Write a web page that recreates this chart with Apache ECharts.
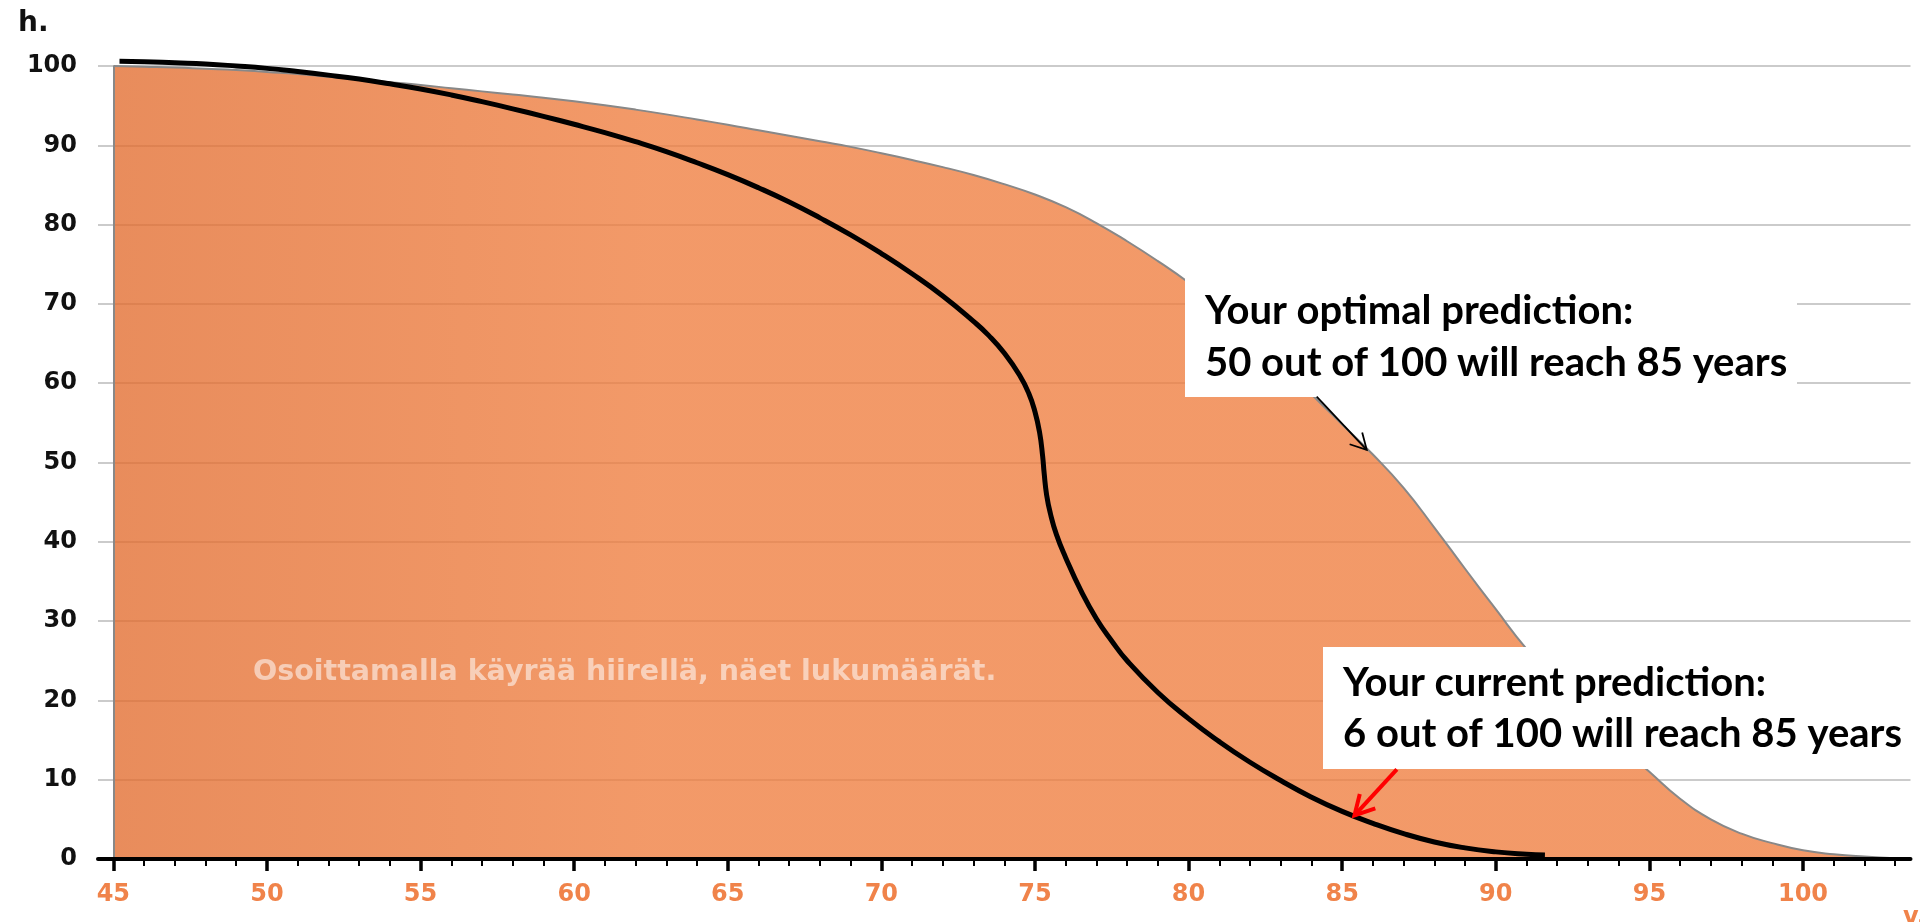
<!DOCTYPE html>
<html>
<head>
<meta charset="utf-8">
<title>Survival prediction</title>
<script src="https://cdn.jsdelivr.net/npm/echarts@6/dist/echarts.min.js"></script>
<style>
  html, body { margin: 0; padding: 0; background: #fff; }
  #chart { width: 1920px; height: 922px; }
</style>
</head>
<body>
<div id="chart"></div>
<script>
// orange area: how many of 100 are still alive at each age (optimal)
var optimalAges = [45, 46, 47, 48, 49, 50, 51, 52, 53, 54, 55, 56, 57, 58, 59, 60, 61, 62, 63, 64, 65, 66, 67, 68, 69, 70, 71, 72, 73, 74,
                   75, 76, 77, 78, 79, 80, 81, 82, 83, 84, 85, 86, 87, 88, 89, 90, 91, 92, 93, 94, 95, 96, 97, 98, 99, 100, 101, 102, 103];
var optimalAlive = [100, 99.9, 99.8, 99.65, 99.5, 99.25, 99.0, 98.65, 98.3, 97.95, 97.6, 97.2, 96.8, 96.4, 96.0, 95.55, 95.05, 94.5, 93.9, 93.25,
                    92.6, 91.9, 91.2, 90.5, 89.8, 89.0, 88.15, 87.25, 86.25, 85.1, 83.8, 82.2, 80.2, 77.9, 75.4, 72.7, 69.7, 66.3, 62.5, 58.6,
                    54.8, 51.0, 46.8, 41.8, 36.6, 31.5, 26.5, 22.3, 18.3, 14.5, 11.0, 7.6, 5.0, 3.2, 2.0, 1.1, 0.6, 0.3, 0.1];

// black curve: current prediction
var currentAges = [45.2, 46, 47, 48, 49, 50, 51, 52, 53, 54, 55, 56, 57, 58, 59, 60, 61, 62, 63, 64, 65, 66, 67, 68, 69, 70, 71, 72, 73, 73.5, 74,
                   74.5, 74.8, 75, 75.15, 75.25, 75.3, 75.38, 75.5, 75.7, 76, 76.5, 77, 77.5, 78, 79, 80, 81, 82, 83, 84, 85, 86, 87, 88, 89, 90, 91, 91.6];
var currentAlive = [100.6, 100.55, 100.4, 100.25, 100.0, 99.7, 99.3, 98.85, 98.35, 97.75, 97.1, 96.35, 95.5, 94.6, 93.65, 92.65, 91.6, 90.45,
                    89.2, 87.8, 86.3, 84.65, 82.85, 80.85, 78.7, 76.35, 73.8, 71.0, 67.8, 66.0, 63.8,
                    61.0, 58.7, 56.4, 53.8, 50.8, 48.6, 45.9, 43.6, 40.9, 38.0, 33.8, 30.3, 27.5, 25.0, 21.0, 17.7, 14.8, 12.2, 9.9, 7.8, 6.0,
                    4.5, 3.2, 2.15, 1.4, 0.9, 0.6, 0.5];

var xMajorTicks = [45, 50, 55, 60, 65, 70, 75, 80, 85, 90, 95, 100];
var xMinorTicks = [46, 47, 48, 49, 51, 52, 53, 54, 56, 57, 58, 59, 61, 62, 63, 64, 66, 67, 68, 69, 71, 72, 73, 74,
                   76, 77, 78, 79, 81, 82, 83, 84, 86, 87, 88, 89, 91, 92, 93, 94, 96, 97, 98, 99, 101, 102, 103];

// arrows of the two notes, [from, to] in chart values
var optimalArrow = [[84.17, 58.3], [85.8, 51.6]];
var currentArrow = [[86.78, 11.3], [85.4, 5.5]];

var optimalNote = ['Your optimal prediction:', '50 out of 100 will reach 85 years'];
var currentNote = ['Your current prediction:', '6 out of 100 will reach 85 years'];
var hintText = 'Osoittamalla käyrää hiirellä, näet lukumäärät.';

function pairs(xs, ys) {
  var out = [];
  for (var i = 0; i < xs.length; i++) out.push([xs[i], ys[i]]);
  return out;
}

var chart = echarts.init(document.getElementById('chart'));

var labelFont = { fontFamily: 'DejaVu Sans', fontWeight: 'bold', fontSize: 24 };

var option = {
  animation: false,
  grid: { left: 98, right: 9.5, top: 66, bottom: 63 },
  xAxis: [{
    type: 'value', min: 44.5, max: 103.5, z: 5,
    axisLine: { show: true, onZero: false, lineStyle: { color: '#000', width: 4 } },
    axisTick: { show: true, customValues: xMajorTicks, length: 12, lineStyle: { color: '#000', width: 3.5 } },
    axisLabel: Object.assign({ customValues: xMajorTicks, margin: 24, color: '#F0834A' }, labelFont),
    splitLine: { show: false }
  }, {
    type: 'value', min: 44.5, max: 103.5, position: 'bottom', z: 5,
    axisLine: { show: false, onZero: false },
    axisTick: { show: true, customValues: xMinorTicks, length: 7, lineStyle: { color: '#000', width: 2 } },
    axisLabel: { show: false },
    splitLine: { show: false }
  }],
  yAxis: {
    type: 'value', min: 0, max: 100, interval: 10,
    axisLine: { show: false },
    axisTick: { show: false },
    axisLabel: Object.assign({ margin: 21, color: '#111' }, labelFont),
    splitLine: { lineStyle: { color: '#cbcbcb', width: 2 } }
  },
  series: [{
    name: 'optimal',
    type: 'line',
    data: pairs(optimalAges, optimalAlive),
    smooth: 0.5,
    symbol: 'none',
    z: 2,
    lineStyle: { color: '#888', width: 2 },
    areaStyle: {
      opacity: 1,
      color: new echarts.graphic.LinearGradient(0, 0, 1, 0, [
        { offset: 0, color: 'rgba(226,108,46,0.78)' },
        { offset: 0.3, color: 'rgba(239,125,62,0.78)' },
        { offset: 1, color: 'rgba(239,125,62,0.78)' }
      ])
    },
    markLine: {
      silent: true, symbol: 'none', label: { show: false },
      lineStyle: { color: '#888', width: 2, type: 'solid' },
      data: [[{ coord: [optimalAges[0], 0] }, { coord: [optimalAges[0], optimalAlive[0]] }]]
    }
  }, {
    name: 'current',
    type: 'line',
    data: pairs(currentAges, currentAlive),
    smooth: 0.5,
    symbol: 'none',
    clip: false,
    z: 3,
    lineStyle: { color: '#000', width: 5 }
  }]
};

chart.setOption(option);

function toPx(p) {
  return chart.convertToPixel({ xAxisIndex: 0, yAxisIndex: 0 }, p);
}

function arrowParts(pts, color, width, head) {
  var a = toPx(pts[0]), b = toPx(pts[1]);
  var ang = Math.atan2(b[1] - a[1], b[0] - a[0]);
  var spread = 0.5;
  var h1 = [b[0] - head * Math.cos(ang - spread), b[1] - head * Math.sin(ang - spread)];
  var h2 = [b[0] - head * Math.cos(ang + spread), b[1] - head * Math.sin(ang + spread)];
  return [
    { type: 'line', z: 120, shape: { x1: a[0], y1: a[1], x2: b[0], y2: b[1] }, style: { stroke: color, lineWidth: width } },
    { type: 'polyline', z: 120, shape: { points: [h1, b, h2] }, style: { stroke: color, lineWidth: width, fill: null } }
  ];
}

function noteBox(x, y, w, h, lines, textX, lineY) {
  var font = 'bold 40px Lato';
  return [
    { type: 'rect', z: 110, shape: { x: x, y: y, width: w, height: h }, style: { fill: '#fff' } },
    { type: 'text', z: 115, x: textX, y: lineY[0], style: { text: lines[0], font: font, fill: '#000', verticalAlign: 'middle' } },
    { type: 'text', z: 115, x: textX, y: lineY[1], style: { text: lines[1], font: font, fill: '#000', verticalAlign: 'middle' } }
  ];
}

var elements = [
  { type: 'text', z: 100, left: 18, top: 10, style: { text: 'h.', font: 'bold 28px "DejaVu Sans"', fill: '#111' } },
  { type: 'text', z: 100, x: 1903, y: 906, style: { text: 'v.', font: 'bold 24px "DejaVu Sans"', fill: '#F0834A' } },
  { type: 'text', z: 100, x: 253, y: 673, style: { text: hintText, font: 'bold 28.5px "DejaVu Sans"', fill: 'rgba(255,255,255,0.55)', verticalAlign: 'middle' } }
];
elements = elements
  .concat(noteBox(1185, 277, 612, 120, optimalNote, 1205, [311, 363]))
  .concat(noteBox(1323, 647, 589, 122, currentNote, 1343, [683, 734]))
  .concat(arrowParts(optimalArrow, '#000', 1.8, 18))
  .concat(arrowParts(currentArrow, '#FF0000', 4, 22));

chart.setOption({ graphic: { elements: elements } });
</script>
</body>
</html>
